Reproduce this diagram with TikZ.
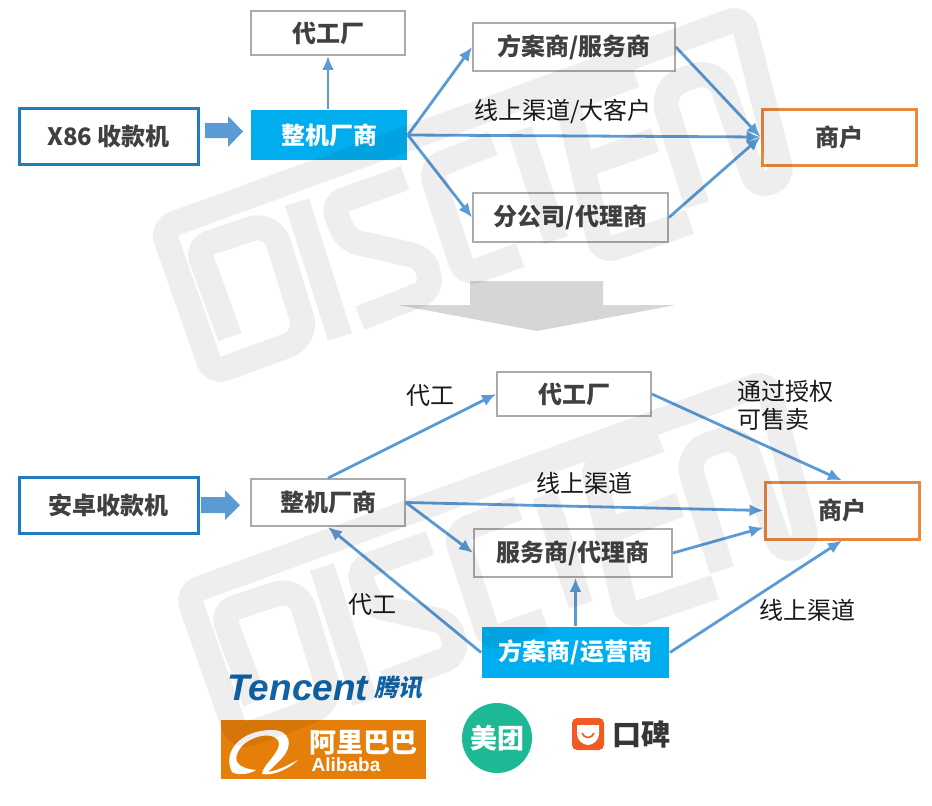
\documentclass[tikz,border=0pt]{standalone}
\usepackage{fontspec}
\setmainfont{Noto Sans CJK SC}
\newfontfamily\slantfont[FakeSlant=0.2]{Noto Sans CJK SC}
\newfontfamily\brandfont{Liberation Sans}
\usetikzlibrary{arrows.meta}
\definecolor{linkblue}{HTML}{5B9BD5}
\definecolor{skyblue}{HTML}{00AEEF}
\definecolor{frameblue}{HTML}{1F7DBF}
\definecolor{frameorange}{HTML}{E8883E}
\definecolor{framegray}{HTML}{ABABAB}
\definecolor{inkgray}{HTML}{404040}
\definecolor{tencentblue}{HTML}{1063A8}
\definecolor{aliorange}{HTML}{E67F0A}
\definecolor{meituangreen}{HTML}{1DB894}
\definecolor{koubeired}{HTML}{F15A24}
\tikzset{%
  plainbox/.style={draw=framegray, line width=1.8pt, text=inkgray, font=\fontsize{24}{28}\selectfont\bfseries, inner sep=0pt},
  skybox/.style={plainbox, draw=none, fill=skyblue, text=white},
  sourcebox/.style={plainbox, draw=frameblue, line width=3pt},
  shopbox/.style={plainbox, draw=frameorange, line width=3pt},
  remark/.style={text=black!90, font=\fontsize{24}{28}\selectfont, inner sep=0pt},
  link/.style={draw=linkblue, line width=2.8pt, -{Latex[length=14pt,width=12pt]}},
  wmline/.style={draw=black, opacity=.065, line width=25pt, rounded corners=13pt, line cap=butt},
}
\newcommand{\discienmark}{%
  \draw[wmline] (230,337) -- (197,247) [rounded corners=22pt] -- (272,222) -- (308,338) [rounded corners=13pt] -- (213,373) -- (162,228) -- (742,17) -- (783,178) -- (757,187) [rounded corners=24pt] -- (716,68) -- (660,88) [rounded corners=13pt] -- (697,205)
    (297,202) -- (340,337)
    (405,178) -- (332,204) -- (346,240) -- (425,258) -- (432,290) -- (360,318)
    (493,143) -- (430,168) -- (465,275) -- (520,255)
    (520,130) -- (556,240)
    (635,75) -- (567,100) -- (602,252) -- (690,222)
    (585,165) -- (655,140);
}
\begin{document}
\begin{tikzpicture}[x=1pt, y=-1pt]
\useasboundingbox (0,0) rectangle (932,806);
\node[plainbox, minimum width=154pt, minimum height=44pt] (topfactory) at (328,33) {代工厂};
\node[sourcebox, minimum width=179pt, minimum height=56pt] (x86) at (108.5,136) {X86 收款机};
\fill[linkblue] (205,123) -- (228,123) -- (228,116) -- (243,131.5) -- (228,147) -- (228,138) -- (205,138) -- cycle;
\node[skybox, minimum width=156pt, minimum height=50pt] (topmaker) at (329,135) {整机厂商};
\node[plainbox, minimum width=202pt, minimum height=48pt] (topscheme) at (574,47) {方案商/服务商};
\node[plainbox, minimum width=195pt, minimum height=49pt] (topbranch) at (570.5,217.5) {分公司/代理商};
\node[shopbox, minimum width=154pt, minimum height=56pt] (topshop) at (839,137) {商户};
\node[remark] (toponline) at (563,111) {线上渠道/大客户};
\draw[link] (topfactory.south |- topmaker.north) -- (topfactory.south);
\draw[link] (topmaker.east) -- (topscheme.west);
\draw[link] (topmaker.east) -- (topshop.west);
\draw[link] (topmaker.east) -- (topbranch.west);
\draw[link] (topscheme.east) -- (topshop.west);
\draw[link] (topbranch.east) -- (topshop.west);
\fill[black!16] (470,281) -- (603,281) -- (603,305) -- (676,305) -- (537,331) -- (398,305) -- (470,305) -- cycle;
\node[plainbox, minimum width=154pt, minimum height=44pt] (factory) at (574,394) {代工厂};
\node[sourcebox, minimum width=179pt, minimum height=56pt] (android) at (108.5,505) {安卓收款机};
\fill[linkblue] (201,497) -- (225,497) -- (225,490) -- (240,505) -- (225,520) -- (225,513) -- (201,513) -- cycle;
\node[plainbox, minimum width=154pt, minimum height=47pt] (maker) at (328,502.5) {整机厂商};
\node[plainbox, minimum width=198pt, minimum height=48pt] (serve) at (573,553) {服务商/代理商};
\node[shopbox, minimum width=154pt, minimum height=57pt] (shop) at (842,510.5) {商户};
\node[skybox, minimum width=187pt, minimum height=51pt] (scheme) at (575.5,652.5) {方案商/运营商};
\node[remark] (oem) at (430,396) {代工};
\node[remark, anchor=west] (grant) at (737,391) {通过授权};
\node[remark, anchor=west] (sale) at (737,419) {可售卖};
\node[remark] (online) at (584,483) {线上渠道};
\node[remark] (oemback) at (372,605) {代工};
\node[remark] (onlinelow) at (807,610) {线上渠道};
\draw[link] (maker.north) -- (factory.west);
\draw[link] (factory.east) -- (shop.north);
\draw[link] (maker.east) -- (shop.west);
\draw[link] (maker.east) -- (serve.west);
\draw[link] (serve.east) -- ([yshift=-17pt]shop.west);
\draw[link] (scheme.west) -- (maker.south);
\draw[link] (scheme.north) -- (scheme.north |- serve.south);
\draw[link] (scheme.east) -- (shop.south);
\node[text=tencentblue, font=\fontsize{37}{40}\selectfont\brandfont\bfseries\itshape, inner sep=0pt] (tencent) at (298,688) {Tencent};
\node[text=tencentblue, font=\fontsize{24}{28}\selectfont\slantfont\bfseries, inner sep=0pt] (tencentcn) at (398,688) {腾讯};
\node[fill=aliorange, minimum width=205pt, minimum height=59pt] (alibaba) at (323,749.5) {};
\node[text=white, font=\fontsize{27}{30}\selectfont\bfseries, inner sep=0pt] (alibabacn) at (363,743) {阿里巴巴};
\node[text=white, font=\fontsize{19}{22}\selectfont\brandfont\bfseries, inner sep=0pt] (alibabaen) at (346,765) {Alibaba};
\fill[white] (232,772) .. controls (222,752) and (240,730) .. (272,730) .. controls (290,730) and (294,745) .. (282,758) .. controls (276,764) and (272,768) .. (268,772) .. controls (280,770) and (290,764) .. (298,760) .. controls (288,770) and (272,776) .. (262,774) .. controls (262,765) and (284,750) .. (278,740) .. controls (270,730) and (244,738) .. (238,752) .. controls (234,760) and (236,768) .. (256,770) .. controls (250,774) and (238,776) .. (232,772) -- cycle;
\node[circle, fill=meituangreen, minimum size=70pt, inner sep=0pt, text=white, font=\fontsize{27}{30}\selectfont\bfseries] (meituan) at (497,738) {美团};
\node[fill=koubeired, rounded corners=5pt, minimum size=32pt, inner sep=0pt] (koubeimark) at (588,734) {};
\fill[white] (577,725) -- (599,725) -- (599,734) .. controls (599,740) and (593,745) .. (588,745) .. controls (583,745) and (577,740) .. (577,734) -- cycle;
\draw[koubeired, line width=1.6pt] (582,733) .. controls (584,739) and (592,739) .. (594,733);
\node[text=inkgray!85!black, font=\fontsize{29}{32}\selectfont\bfseries, inner sep=0pt] (koubei) at (641,734) {口碑};
\discienmark
\begin{scope}[shift={(25,365)}]
\discienmark
\end{scope}
\end{tikzpicture}
\end{document}
